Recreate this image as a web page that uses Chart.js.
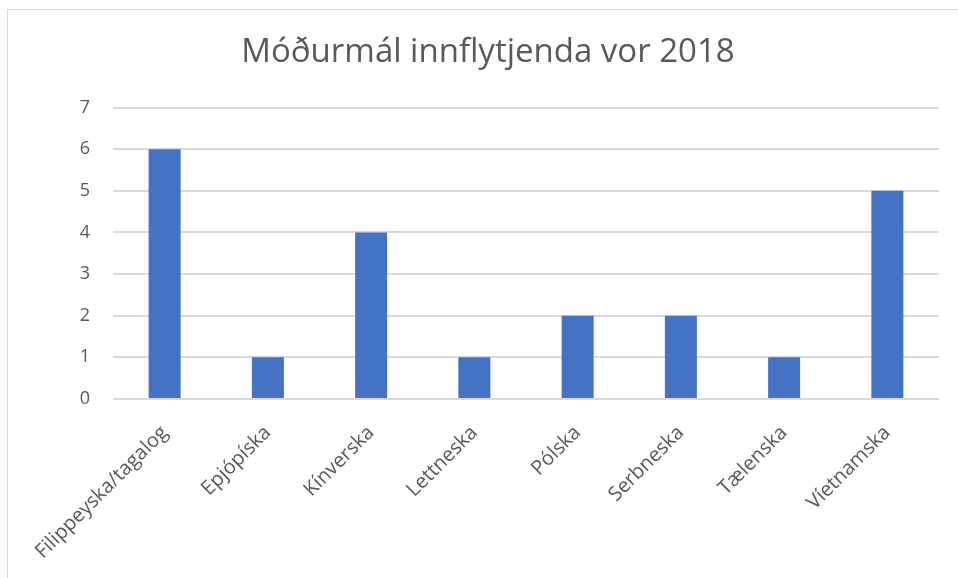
<!DOCTYPE html>
<html>
<head>
<meta charset="utf-8">
<script src="https://cdn.jsdelivr.net/npm/chart.js@4"></script>
<style>
    html, body { margin: 0; padding: 0; background: #fff; overflow: hidden; }
    #frame {
        position: absolute; left: 7px; top: 9px; width: 1000px; height: 600px;
        border-left: 1px solid #d9d9d9; border-top: 1px solid #d9d9d9;
    }
    #wrap { position: absolute; left: 0; top: 0; width: 958px; height: 578px; }
</style>
</head>
<body>
<div id="frame"></div>
<div id="wrap"><canvas id="chart" width="958" height="578"></canvas></div>
<script>
const categories = ['Filippeyska/tagalog', 'Epjópíska', 'Kínverska', 'Lettneska', 'Pólska', 'Serbneska', 'Tælenska', 'Víetnamska'];
const counts = [6, 1, 4, 1, 2, 2, 1, 5];
const yTicks = [0, 1, 2, 3, 4, 5, 6, 7];

const textColor = '#595959';
const gridColor = '#d9d9d9';
const fontFamily = "'Open Sans', 'Noto Sans', sans-serif";

// the original frame is wider than the crop, so centre the title on it
const titleShift = {
    id: 'titleShift',
    afterLayout(chart) {
        if (chart.titleBlock) {
            chart.titleBlock.left = 0;
            chart.titleBlock.right = 976;
        }
    }
};

new Chart(document.getElementById('chart').getContext('2d'), {
    type: 'bar',
    data: {
        labels: categories,
        datasets: [{
            data: counts,
            backgroundColor: '#4472c4',
            borderWidth: 0,
            categoryPercentage: 1,
            barPercentage: 0.31
        }]
    },
    options: {
        responsive: false,
        animation: false,
        layout: { padding: { top: 33, right: 19, bottom: 0, left: 0 } },
        plugins: {
            legend: { display: false },
            tooltip: { enabled: false },
            title: {
                display: true,
                text: 'Móðurmál innflytjenda vor 2018',
                color: textColor,
                font: { family: fontFamily, size: 33, weight: 'normal' },
                padding: { top: 0, bottom: 35 }
            }
        },
        scales: {
            y: {
                min: yTicks[0],
                max: yTicks[yTicks.length - 1],
                afterFit: (s) => { s.width = 113; },
                border: { display: false },
                grid: { color: gridColor, lineWidth: 2, drawTicks: false },
                ticks: {
                    stepSize: 1,
                    padding: 23,
                    color: textColor,
                    font: { family: fontFamily, size: 18 }
                }
            },
            x: {
                afterFit: (s) => { s.height = 179; },
                border: { display: false },
                grid: { display: false, drawTicks: false },
                ticks: {
                    minRotation: 45,
                    maxRotation: 45,
                    padding: 22,
                    color: textColor,
                    font: { family: fontFamily, size: 20 }
                }
            }
        }
    },
    plugins: [titleShift]
});
</script>
</body>
</html>
